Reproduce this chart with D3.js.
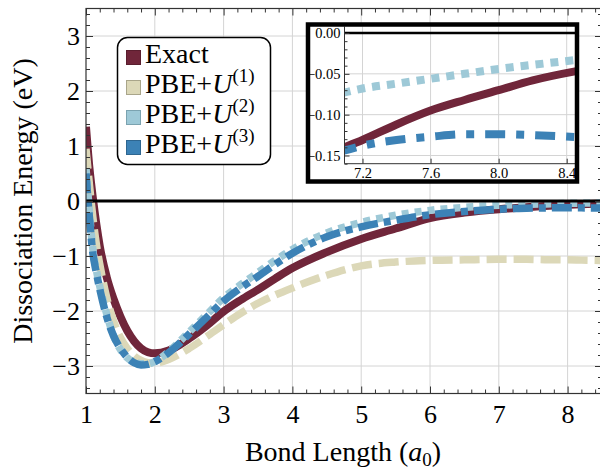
<!DOCTYPE html>
<html>
<head>
<meta charset="utf-8">
<script src="https://cdn.jsdelivr.net/npm/d3@7"></script>
<style>
  html, body { margin: 0; padding: 0; background: #fff; }
  svg { display: block; font-family: "Liberation Serif", "Times New Roman", serif; }
</style>
</head>
<body>
<div id="chart"></div>
<script>
const FONT = '"Liberation Serif", "Times New Roman", serif';

// Bond length grid (a0) shared by all four curves
const X_VALUES = [1.0, 1.05, 1.1, 1.15, 1.2, 1.3, 1.4, 1.5, 1.6, 1.7, 1.8, 1.9, 2.0, 2.2, 2.5, 2.75,
  3.0, 3.25, 3.5, 3.75, 4.0, 4.5, 5.0, 5.5, 6.0, 6.5, 7.0, 7.2, 7.4, 7.6, 7.8, 8.0, 8.2, 8.5];

// Dissociation energy (eV)
const EXACT = [1.35, 0.6, 0.05, -0.42, -0.82, -1.38, -1.78, -2.1, -2.36, -2.55, -2.68, -2.75, -2.77, -2.72, -2.5, -2.27,
  -2.01, -1.8, -1.61, -1.41, -1.22, -0.93, -0.69, -0.5, -0.31, -0.21, -0.148, -0.131, -0.112, -0.095, -0.082, -0.07, -0.058, -0.045];
const PBE_U1 = [0.95, 0.3, -0.3, -0.78, -1.15, -1.75, -2.18, -2.48, -2.68, -2.82, -2.9, -2.94, -2.95, -2.88, -2.68, -2.47,
  -2.25, -2.04, -1.86, -1.71, -1.58, -1.35, -1.18, -1.11, -1.08, -1.07, -1.06, -1.06, -1.06, -1.065, -1.07, -1.07, -1.075, -1.08];
const PBE_U2 = [0.6, -0.2, -0.88, -1.25, -1.55, -2.05, -2.45, -2.7, -2.85, -2.93, -2.96, -2.96, -2.92, -2.74, -2.38, -2.07,
  -1.76, -1.52, -1.3, -1.08, -0.88, -0.58, -0.39, -0.26, -0.17, -0.115, -0.078, -0.068, -0.062, -0.056, -0.05, -0.044, -0.039, -0.032];
const PBE_U3 = [0.5, -0.3, -0.95, -1.3, -1.6, -2.1, -2.45, -2.68, -2.84, -2.94, -2.98, -2.97, -2.92, -2.76, -2.42, -2.12,
  -1.82, -1.58, -1.37, -1.15, -0.95, -0.65, -0.47, -0.35, -0.25, -0.19, -0.15, -0.138, -0.131, -0.127, -0.124, -0.124, -0.125, -0.128];

const X_TICKS = [1, 2, 3, 4, 5, 6, 7, 8];
const Y_TICKS = [-3, -2, -1, 0, 1, 2, 3];
const INSET_X_TICKS = [7.2, 7.6, 8.0, 8.4];
const INSET_Y_TICKS = [0, -0.05, -0.10, -0.15];
const LEGEND_SUPERS = [null, '(1)', '(2)', '(3)'];

const SERIES = [
  { name: 'Exact',  values: EXACT,  color: '#70263a', edge: '#5a1e2e', width: 8,   dash: null,       insetDash: null },
  { name: 'PBE+U1', values: PBE_U1, color: '#dcd8b8', edge: '#a9a58a', width: 7.5, dash: '20,7',     insetDash: '20,7' },
  { name: 'PBE+U2', values: PBE_U2, color: '#9ec9d7', edge: '#7ba3b0', width: 7.5, dash: '7,6',      insetDash: '8,7' },
  { name: 'PBE+U3', values: PBE_U3, color: '#3c82b6', edge: '#2e6690', width: 7.5, dash: '20,6,7,6', insetDash: '20,11,8,11' },
];

const W = 600, H = 469;
const svg = d3.select('#chart').append('svg').attr('width', W).attr('height', H);
svg.append('rect').attr('width', W).attr('height', H).attr('fill', '#fff');

// Main plot frame (right edge falls just outside the picture)
const P = { left: 86, right: 602, top: 8.5, bottom: 393.5 };
const x = d3.scaleLinear().domain([1, 8.5]).range([P.left, P.right]);
const y = d3.scaleLinear().domain([-3.5, 3.5]).range([P.bottom, P.top]);

const minorX = d3.range(10, 86, 2).map(v => v / 10).filter(v => !Number.isInteger(v));
const minorY = d3.range(-34, 35, 2).map(v => v / 10).filter(v => !Number.isInteger(v));

svg.append('defs').append('clipPath').attr('id', 'clip-main')
  .append('rect').attr('x', P.left).attr('y', P.top)
  .attr('width', P.right - P.left).attr('height', P.bottom - P.top);

// Grid lines
const grid = svg.append('g').attr('stroke', '#d4d4d4').attr('stroke-width', 1);
X_TICKS.slice(1).forEach(v => grid.append('line')
  .attr('x1', x(v)).attr('x2', x(v)).attr('y1', P.top).attr('y2', P.bottom));
Y_TICKS.forEach(v => grid.append('line')
  .attr('x1', P.left).attr('x2', P.right).attr('y1', y(v)).attr('y2', y(v)));

// Curves
const line = (sx, sy) => d3.line().x(d => sx(d[0])).y(d => sy(d[1])).curve(d3.curveMonotoneX);
const curves = svg.append('g').attr('clip-path', 'url(#clip-main)');
SERIES.forEach(s => {
  curves.append('path')
    .datum(X_VALUES.map((v, i) => [v, s.values[i]]))
    .attr('d', line(x, y))
    .attr('fill', 'none').attr('stroke', s.color).attr('stroke-width', s.width)
    .attr('stroke-dasharray', s.dash).attr('stroke-linecap', 'butt');
});

// Zero line
svg.append('line').attr('x1', P.left).attr('x2', P.right).attr('y1', y(0)).attr('y2', y(0))
  .attr('stroke', '#000').attr('stroke-width', 3);

// Axes: inward ticks on all four sides
function styleAxis(ax, size = 26) {
  ax.attr('font-family', FONT).attr('font-size', size);
  ax.select('.domain').remove();
  ax.selectAll('.tick line').attr('stroke', '#333');
  ax.selectAll('text').attr('fill', '#000').attr('font-family', FONT).attr('font-size', size);
}
const fmt = d3.format('d');
svg.append('g').attr('transform', `translate(0,${P.bottom})`)
  .call(d3.axisBottom(x).tickValues(X_TICKS).tickFormat(fmt).tickSize(-7).tickPadding(11)).call(styleAxis);
svg.append('g').attr('transform', `translate(0,${P.bottom})`)
  .call(d3.axisBottom(x).tickValues(minorX).tickFormat('').tickSize(-4)).call(styleAxis);
svg.append('g').attr('transform', `translate(0,${P.top})`)
  .call(d3.axisTop(x).tickValues(X_TICKS).tickFormat('').tickSize(-7)).call(styleAxis);
svg.append('g').attr('transform', `translate(0,${P.top})`)
  .call(d3.axisTop(x).tickValues(minorX).tickFormat('').tickSize(-4)).call(styleAxis);
svg.append('g').attr('transform', `translate(${P.left},0)`)
  .call(d3.axisLeft(y).tickValues(Y_TICKS).tickFormat(fmt).tickSize(-7).tickPadding(6)).call(styleAxis);
svg.append('g').attr('transform', `translate(${P.left},0)`)
  .call(d3.axisLeft(y).tickValues(minorY).tickFormat('').tickSize(-4)).call(styleAxis);
svg.append('g').attr('transform', `translate(${P.right},0)`)
  .call(d3.axisRight(y).tickValues(Y_TICKS).tickFormat('').tickSize(-7)).call(styleAxis);
svg.append('g').attr('transform', `translate(${P.right},0)`)
  .call(d3.axisRight(y).tickValues(minorY).tickFormat('').tickSize(-4)).call(styleAxis);

svg.append('rect').attr('x', P.left).attr('y', P.top)
  .attr('width', P.right - P.left).attr('height', P.bottom - P.top)
  .attr('fill', 'none').attr('stroke', '#333').attr('stroke-width', 1.2);

// Axis titles
const xt = svg.append('text').attr('x', (P.left + 600) / 2).attr('y', 461)
  .attr('text-anchor', 'middle').attr('font-family', FONT).attr('font-size', 28);
xt.append('tspan').text('Bond Length (');
xt.append('tspan').attr('font-style', 'italic').text('a');
xt.append('tspan').attr('font-size', 19).attr('dy', 5).text('0');
xt.append('tspan').attr('dy', -5).text(')');

svg.append('text').attr('transform', `translate(32,${(P.top + P.bottom) / 2}) rotate(-90)`)
  .attr('text-anchor', 'middle').attr('font-family', FONT).attr('font-size', 28)
  .text('Dissociation Energy (eV)');

// Legend
const lg = svg.append('g');
lg.append('rect').attr('x', 117.5).attr('y', 37.5).attr('width', 153).attr('height', 127).attr('rx', 10)
  .attr('fill', '#fff').attr('stroke', '#000').attr('stroke-width', 1.5);
SERIES.forEach((s, i) => {
  const by = 63 + i * 30;
  lg.append('rect').attr('x', 126.5).attr('y', by - 12.5).attr('width', 14).attr('height', 14)
    .attr('fill', s.color).attr('stroke', s.edge).attr('stroke-width', 1);
  const t = lg.append('text').attr('x', 145).attr('y', by)
    .attr('font-family', FONT).attr('font-size', 28);
  if (i === 0) { t.text('Exact'); return; }
  t.append('tspan').text('PBE+');
  t.append('tspan').attr('font-style', 'italic').text('U');
  t.append('tspan').attr('font-size', 19).attr('dy', -11).text(LEGEND_SUPERS[i]);
});

// Inset: zoom on the tail 7.1 - 8.5
const I = { left: 344.5, right: 576.5, top: 26.5, bottom: 163.7 };
const xi = d3.scaleLinear().domain([7.2, 8.4]).range([362.5, 566.7]);
const yi = d3.scaleLinear().domain([-0.15, 0]).range([155.5, 33]);

const ins = svg.append('g');
ins.append('rect').attr('x', 308).attr('y', 24.5).attr('width', 269).attr('height', 157)
  .attr('fill', '#fff').attr('stroke', 'none');
svg.select('defs').append('clipPath').attr('id', 'clip-inset')
  .append('rect').attr('x', I.left).attr('y', I.top)
  .attr('width', I.right - I.left).attr('height', I.bottom - I.top);

const igrid = ins.append('g').attr('stroke', '#d4d4d4').attr('stroke-width', 1);
INSET_X_TICKS.forEach(v => igrid.append('line')
  .attr('x1', xi(v)).attr('x2', xi(v)).attr('y1', I.top).attr('y2', I.bottom));
INSET_Y_TICKS.slice(1).forEach(v => igrid.append('line')
  .attr('x1', I.left).attr('x2', I.right).attr('y1', yi(v)).attr('y2', yi(v)));

const icurves = ins.append('g').attr('clip-path', 'url(#clip-inset)');
SERIES.forEach(s => {
  const pts = X_VALUES.map((v, i) => [v, s.values[i]]).filter(d => d[0] >= 6.5);
  icurves.append('path').datum(pts).attr('d', line(xi, yi))
    .attr('fill', 'none').attr('stroke', s.color).attr('stroke-width', 8)
    .attr('stroke-dasharray', s.insetDash).attr('stroke-linecap', 'butt');
});
ins.append('line').attr('x1', I.left).attr('x2', I.right).attr('y1', yi(0)).attr('y2', yi(0))
  .attr('stroke', '#000').attr('stroke-width', 2.5);

const minorYi = d3.range(-16, 1).map(v => v / 100).filter(v => Math.round(v * 100) % 5 !== 0);
ins.append('g').attr('transform', `translate(${I.left},0)`)
  .call(d3.axisLeft(yi).tickValues(INSET_Y_TICKS).tickFormat(d3.format('.2f')).tickSize(-5).tickPadding(4))
  .call(styleAxis, 14.5);
ins.append('g').attr('transform', `translate(${I.left},0)`)
  .call(d3.axisLeft(yi).tickValues(minorYi).tickFormat('').tickSize(-3)).call(styleAxis, 14.5);
ins.append('g').attr('transform', `translate(0,${I.bottom})`)
  .call(d3.axisBottom(xi).tickValues(INSET_X_TICKS).tickFormat(d3.format('.1f')).tickSize(-5).tickPadding(4))
  .call(styleAxis, 14.5);
ins.append('line').attr('x1', I.left).attr('x2', I.left).attr('y1', I.top).attr('y2', I.bottom)
  .attr('stroke', '#333').attr('stroke-width', 1);
ins.append('line').attr('x1', I.left).attr('x2', I.right).attr('y1', I.bottom).attr('y2', I.bottom)
  .attr('stroke', '#333').attr('stroke-width', 1);
ins.append('rect').attr('x', 308).attr('y', 24.5).attr('width', 269).attr('height', 157)
  .attr('fill', 'none').attr('stroke', '#000').attr('stroke-width', 4.5);
</script>
</body>
</html>
